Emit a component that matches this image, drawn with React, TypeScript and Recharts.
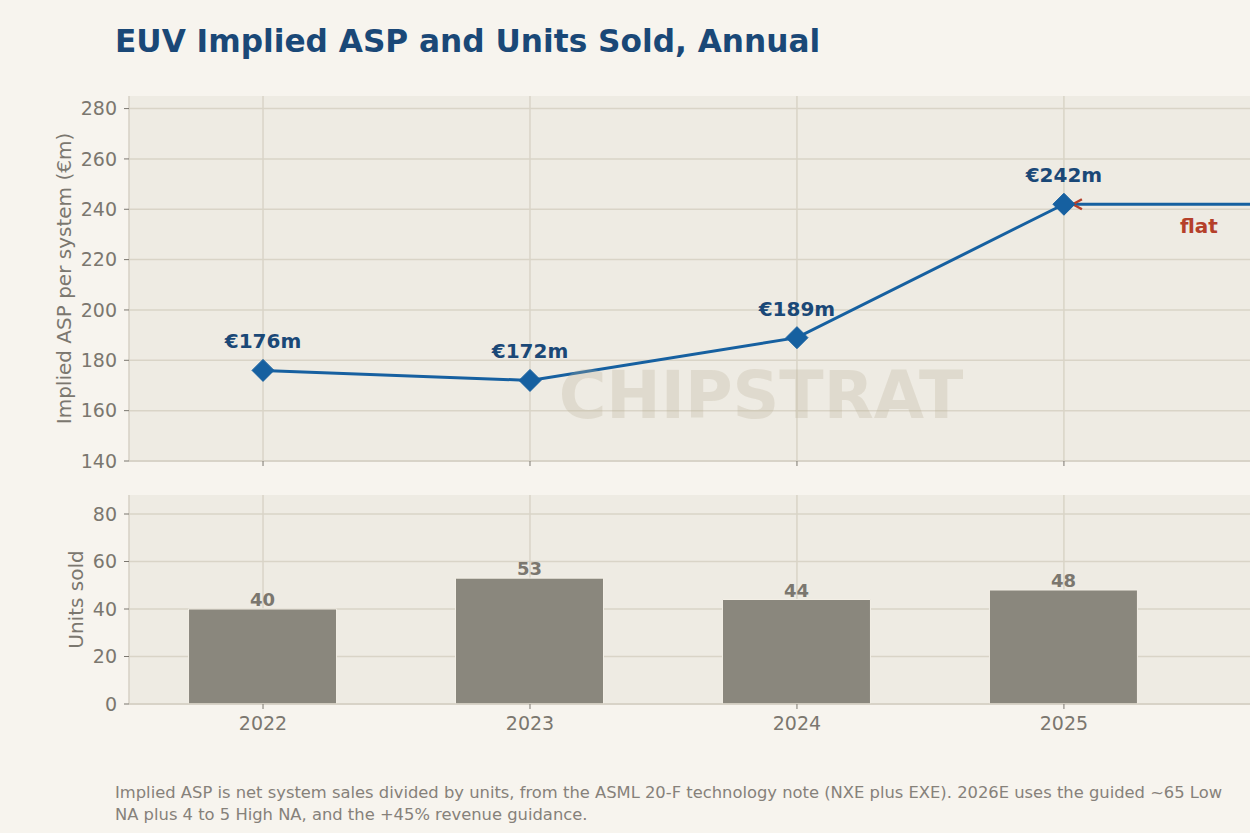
import React from 'react';
import {
  ComposedChart,
  Line,
  Bar,
  XAxis,
  YAxis,
  CartesianGrid,
  LabelList,
  ReferenceDot,
} from 'recharts';

const years = [2022, 2023, 2024, 2025];
const aspValues = [176, 172, 189, 242];
const unitsValues = [40, 53, 44, 48];
const flatYears = [2025, 2026];
const flatValue = 242;
const aspTicks = [140, 160, 180, 200, 220, 240, 260, 280];
const unitTicks = [0, 20, 40, 60, 80];
const xDomain = [2021.498, 2025.697];

const FONT = '"DejaVu Sans", Verdana, sans-serif';
const PAGE_BG = '#f7f4ee';
const PLOT_BG = '#eeebe3';
const GRID = '#d9d4c7';
const SPINE = '#d6d1c4';
const TICK_TEXT = '#7b776f';
const NAVY = '#1a4877';
const LINE_BLUE = '#1660a0';
const BAR_GRAY = '#8a877d';
const RED = '#b5402a';

const allTopYears = Array.from(new Set([...years, ...flatYears])).sort((a, b) => a - b);
const topData = allTopYears.map((y) => {
  const i = years.indexOf(y);
  return {
    year: y,
    asp: i >= 0 ? aspValues[i] : undefined,
    flat: flatYears.includes(y) ? flatValue : undefined,
  };
});
const bottomData = years.map((y, i) => ({ year: y, units: unitsValues[i] }));

const Diamond = (props: any) => {
  const { cx, cy, index } = props;
  if (cx == null || cy == null || props.value == null) return <g key={`d-${index}`} />;
  const r = 11;
  return (
    <path
      key={`d-${index}`}
      d={`M${cx},${cy - r} L${cx + r},${cy} L${cx},${cy + r} L${cx - r},${cy} Z`}
      fill={LINE_BLUE}
      stroke={LINE_BLUE}
      strokeWidth={1}
    />
  );
};

const AspLabel = (props: any) => {
  const { x, y, value } = props;
  if (value == null) return null;
  return (
    <text
      x={x}
      y={y - 22}
      textAnchor="middle"
      fill={NAVY}
      fontSize={20}
      fontWeight="bold"
      fontFamily={FONT}
    >
      {`€${value}m`}
    </text>
  );
};

const FlatAnnotation = (props: any) => {
  const { cx, cy } = props;
  if (cx == null || cy == null) return <g />;
  return (
    <g>
      <path
        d={`M${cx + 18},${cy - 5} L${cx + 9},${cy} L${cx + 18},${cy + 5}`}
        fill="none"
        stroke={RED}
        strokeWidth={2.5}
      />
      <text
        x={cx + 135}
        y={cy + 29}
        textAnchor="middle"
        fill={RED}
        fontSize={20}
        fontWeight="bold"
        fontFamily={FONT}
      >
        flat
      </text>
    </g>
  );
};

const yLabel = (text: string, x: number) => (props: any) => {
  const vb = props.viewBox || {};
  const cy = (vb.y ?? 0) + (vb.height ?? 0) / 2;
  return (
    <text
      x={x}
      y={cy}
      transform={`rotate(-90, ${x}, ${cy})`}
      textAnchor="middle"
      fill={TICK_TEXT}
      fontSize={20}
      fontFamily={FONT}
    >
      {text}
    </text>
  );
};

const tickStyle = { fill: TICK_TEXT, fontSize: 19, fontFamily: FONT };

export default function App() {
  return (
    <div
      style={{
        position: 'absolute',
        left: 0,
        top: 0,
        width: 1250,
        height: 833,
        background: PAGE_BG,
        fontFamily: FONT,
        overflow: 'hidden',
      }}
    >
      <div
        style={{
          position: 'absolute',
          left: 115,
          top: 22,
          fontSize: 31.2,
          fontWeight: 'bold',
          color: NAVY,
          lineHeight: '38px',
          whiteSpace: 'nowrap',
        }}
      >
        EUV Implied ASP and Units Sold, Annual
      </div>

      <div style={{ position: 'absolute', left: 0, top: 0 }}>
        <ComposedChart
          width={1250}
          height={480}
          data={topData}
          margin={{ top: 96, right: 0, bottom: 0, left: 0 }}
        >
          <CartesianGrid
            stroke={GRID}
            strokeWidth={1.5}
            fill={PLOT_BG}
            fillOpacity={1}
            syncWithTicks
          />
          <XAxis
            dataKey="year"
            type="number"
            domain={xDomain}
            allowDataOverflow
            ticks={years}
            tickFormatter={() => ''}
            tickSize={5}
            height={19}
            axisLine={{ stroke: SPINE, strokeWidth: 1.5 }}
            tickLine={{ stroke: TICK_TEXT, strokeWidth: 1 }}
          />
          <YAxis
            type="number"
            domain={[140, 285]}
            allowDataOverflow
            ticks={aspTicks}
            interval={0}
            width={129}
            tickSize={5}
            tickMargin={7}
            tick={tickStyle}
            axisLine={{ stroke: SPINE, strokeWidth: 1.5 }}
            tickLine={{ stroke: TICK_TEXT, strokeWidth: 1 }}
            label={yLabel('Implied ASP per system (€m)', 71)}
          />
          <ReferenceDot
            x={flatYears[0]}
            y={flatValue}
            r={0}
            ifOverflow="visible"
            shape={FlatAnnotation}
          />
          <Line
            dataKey="flat"
            stroke={LINE_BLUE}
            strokeWidth={3}
            dot={false}
            activeDot={false}
            isAnimationActive={false}
          />
          <Line
            dataKey="asp"
            stroke={LINE_BLUE}
            strokeWidth={3}
            dot={Diamond}
            activeDot={false}
            isAnimationActive={false}
          >
            <LabelList dataKey="asp" content={AspLabel} />
          </Line>
        </ComposedChart>
      </div>

      <svg
        width={1250}
        height={833}
        style={{ position: 'absolute', left: 0, top: 0, pointerEvents: 'none' }}
      >
        <text
          x={761}
          y={418}
          textAnchor="middle"
          fontSize={65}
          fontWeight="bold"
          fontFamily={FONT}
          fill="rgb(185,175,150)"
          fillOpacity={0.28}
        >
          CHIPSTRAT
        </text>
      </svg>

      <div style={{ position: 'absolute', left: 0, top: 480 }}>
        <ComposedChart
          width={1250}
          height={280}
          data={bottomData}
          margin={{ top: 15, right: 0, bottom: 0, left: 0 }}
        >
          <CartesianGrid
            stroke={GRID}
            strokeWidth={1.5}
            fill={PLOT_BG}
            fillOpacity={1}
            syncWithTicks
          />
          <XAxis
            dataKey="year"
            type="number"
            domain={xDomain}
            allowDataOverflow
            ticks={years}
            tickSize={5}
            tickMargin={8}
            height={56}
            tick={tickStyle}
            axisLine={{ stroke: SPINE, strokeWidth: 1.5 }}
            tickLine={{ stroke: TICK_TEXT, strokeWidth: 1 }}
          />
          <YAxis
            type="number"
            domain={[0, 88]}
            allowDataOverflow
            ticks={unitTicks}
            interval={0}
            width={129}
            tickSize={5}
            tickMargin={7}
            tick={tickStyle}
            axisLine={{ stroke: SPINE, strokeWidth: 1.5 }}
            tickLine={{ stroke: TICK_TEXT, strokeWidth: 1 }}
            label={yLabel('Units sold', 83)}
          />
          <Bar
            dataKey="units"
            barSize={148}
            fill={BAR_GRAY}
            stroke="#f3efe6"
            strokeWidth={1}
            isAnimationActive={false}
          >
            <LabelList
              dataKey="units"
              position="top"
              offset={3}
              fill={TICK_TEXT}
              fontSize={18}
              fontWeight="bold"
              fontFamily={FONT}
            />
          </Bar>
        </ComposedChart>
      </div>

      <div
        style={{
          position: 'absolute',
          left: 115,
          top: 782,
          fontSize: 16.35,
          lineHeight: '22px',
          color: '#86817a',
          whiteSpace: 'nowrap',
        }}
      >
        <div>
          Implied ASP is net system sales divided by units, from the ASML 20-F technology note (NXE plus EXE). 2026E uses the guided ~65 Low
        </div>
        <div>NA plus 4 to 5 High NA, and the +45% revenue guidance.</div>
      </div>
    </div>
  );
}
